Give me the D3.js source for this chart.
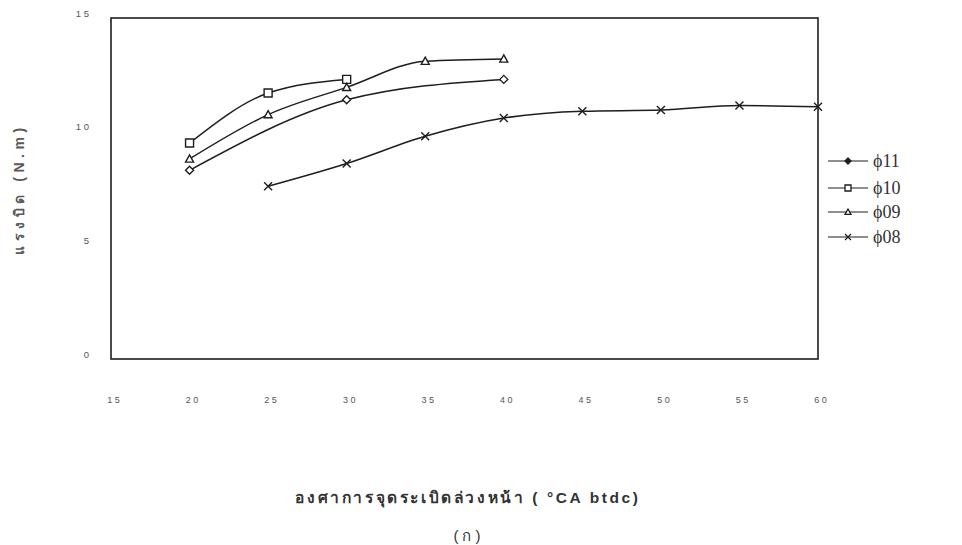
<!DOCTYPE html>
<html>
<head>
<meta charset="utf-8">
<script src="https://cdn.jsdelivr.net/npm/d3@7"></script>
<style>
  html, body { margin: 0; padding: 0; background: #fff; }
  svg { display: block; }
</style>
</head>
<body>
<svg id="chart" width="962" height="545"></svg>
<script>
// Torque vs. spark advance, one curve per nozzle size
const xTicks = [15, 20, 25, 30, 35, 40, 45, 50, 55, 60];
const yTicks = [0, 5, 10, 15];

const phi11 = [[20, 8.3], [30, 11.4], [40, 12.3]];
const phi10 = [[20, 9.5], [25, 11.7], [30, 12.3]];
const phi09 = [[20, 8.8], [25, 10.75], [30, 11.95], [35, 13.1], [40, 13.2]];
const phi08 = [[25, 7.6], [30, 8.6], [35, 9.8], [40, 10.6], [45, 10.9], [50, 10.95], [55, 11.15], [60, 11.1]];

const seriesNames = ["\u03d511", "\u03d510", "\u03d509", "\u03d508"];
const seriesData = [phi11, phi10, phi09, phi08];
const seriesSymbols = ["diamond", "square", "triangle", "cross"];

const svg = d3.select("#chart");
const plot = { left: 111, right: 818, top: 18, bottom: 359 };

const x = d3.scaleLinear().domain([15, 60]).range([plot.left, plot.right]);
const y = d3.scaleLinear().domain([0, 15]).range([plot.bottom, plot.top]);

const ink = "#1e1e1e";

// frame
svg.append("rect")
  .attr("x", plot.left).attr("y", plot.top)
  .attr("width", plot.right - plot.left).attr("height", plot.bottom - plot.top)
  .attr("fill", "none").attr("stroke", ink).attr("stroke-width", 1.6);

// tick labels, spaced-out digits
const spaced = d => String(d).split("").join(" ");

const xAxis = d3.axisBottom(x).tickValues(xTicks).tickSize(0).tickPadding(0).tickFormat(spaced);
svg.append("g")
  .attr("transform", `translate(2,${plot.bottom + 44})`)
  .call(xAxis)
  .call(g => g.select(".domain").remove())
  .call(g => g.selectAll("text")
    .attr("font-family", "Liberation Sans, Arial, sans-serif")
    .attr("font-size", 9).attr("fill", "#555").attr("dy", 0));

const yAxis = d3.axisLeft(y).tickValues(yTicks).tickSize(0).tickPadding(0).tickFormat(spaced);
svg.append("g")
  .attr("transform", `translate(${plot.left - 22},0)`)
  .call(yAxis)
  .call(g => g.select(".domain").remove())
  .call(g => g.selectAll("text")
    .attr("font-family", "Liberation Sans, Arial, sans-serif")
    .attr("font-size", 9.5).attr("fill", "#555").attr("dy", -2));

// curves
const line = d3.line()
  .x(d => x(d[0])).y(d => y(d[1]))
  .curve(d3.curveMonotoneX);

const symbolPath = (kind, s) => {
  if (kind === "diamond") {
    return `M0,${-s}L${s},0L0,${s}L${-s},0Z`;
  }
  if (kind === "square") {
    return `M${-s},${-s}H${s}V${s}H${-s}Z`;
  }
  if (kind === "triangle") {
    return `M0,${-s}L${s},${s * 0.8}H${-s}Z`;
  }
  return `M${-s},${-s}L${s},${s}M${s},${-s}L${-s},${s}`;
};

seriesData.forEach((data, i) => {
  const g = svg.append("g");
  g.append("path")
    .datum(data)
    .attr("d", line)
    .attr("fill", "none").attr("stroke", ink).attr("stroke-width", 1.5);
  g.selectAll("path.mark")
    .data(data)
    .join("path")
    .attr("class", "mark")
    .attr("transform", d => `translate(${x(d[0])},${y(d[1])})`)
    .attr("d", symbolPath(seriesSymbols[i], 4))
    .attr("fill", "#fff").attr("stroke", ink).attr("stroke-width", 1.4);
});

// legend
const legend = svg.append("g").attr("transform", "translate(828,0)");
const legendY = [161, 188, 212, 237];
seriesNames.forEach((name, i) => {
  const gy = legendY[i];
  const row = legend.append("g").attr("transform", `translate(0,${gy})`);
  row.append("line").attr("x1", 0).attr("x2", 40).attr("y1", 0).attr("y2", 0)
    .attr("stroke", ink).attr("stroke-width", 1.1);
  row.append("path")
    .attr("transform", "translate(20,0)")
    .attr("d", symbolPath(seriesSymbols[i], 3))
    .attr("fill", i === 0 || i === 3 ? ink : "#fff")
    .attr("stroke", ink).attr("stroke-width", 1.3);
  row.append("text")
    .attr("x", 45).attr("y", 6)
    .attr("font-family", "Liberation Serif, Times New Roman, serif")
    .attr("font-size", 18).attr("fill", "#333")
    .text(name);
});

// axis titles
svg.append("text")
  .attr("transform", `translate(24,189) rotate(-90)`)
  .attr("text-anchor", "middle")
  .attr("font-family", "Liberation Sans, Arial, sans-serif")
  .attr("font-size", 14).attr("font-weight", "bold").attr("fill", "#5a5a5a")
  .attr("letter-spacing", 4.5)
  .text("แรงบิด (N.m)");

svg.append("text")
  .attr("x", 468).attr("y", 503)
  .attr("text-anchor", "middle")
  .attr("font-family", "Liberation Sans, Arial, sans-serif")
  .attr("font-size", 15.5).attr("font-weight", "bold").attr("fill", "#333")
  .attr("letter-spacing", 2.6)
  .text("องศาการจุดระเบิดล่วงหน้า ( °CA btdc)");

svg.append("text")
  .attr("x", 469).attr("y", 541)
  .attr("text-anchor", "middle")
  .attr("font-family", "Liberation Sans, Arial, sans-serif")
  .attr("font-size", 15).attr("fill", "#333")
  .attr("letter-spacing", 4)
  .text("(ก)");
</script>
</body>
</html>
